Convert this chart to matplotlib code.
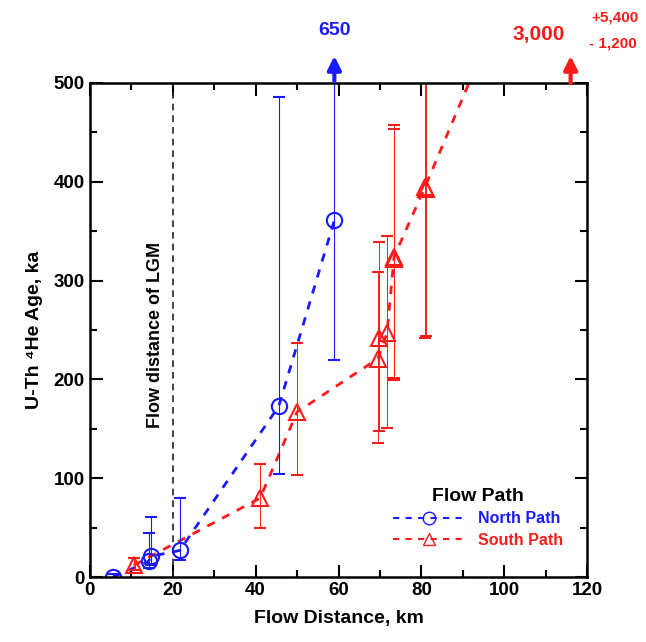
import matplotlib.pyplot as plt
from matplotlib.lines import Line2D

plt.rcParams['font.family'] = ['Liberation Sans', 'DejaVu Sans']
plt.rcParams['font.weight'] = 'bold'

# North path (blue circles)
north_x = [5.6, 14.2, 14.7, 21.7, 45.6, 59.0]
north_y = [0, 16, 21, 27, 173, 361]
north_lo = [-3, 9, 12, 17, 104, 220]
north_hi = [3, 45, 61, 80, 486, 650]

# South path (red triangles)
south_x = [10.6, 41.1, 50.0, 69.5, 69.7, 71.7, 73.3, 73.5, 80.9, 81.1]
south_y = [12, 80, 167, 221, 242, 247, 324, 322, 395, 393]
south_lo = [7, 50, 103, 136, 148, 151, 199, 201, 242, 244]
south_hi = [19, 114, 237, 309, 339, 345, 453, 457, 551, 547]

# dashed trend lines
north_line_x = [5.6, 14.2, 14.7, 21.7, 45.6, 59.0]
north_line_y = [0, 16, 21, 27, 173, 361]
south_line_x = [10.6, 41.1, 50.0, 69.5, 71.7, 73.4, 80.9, 92.0]
south_line_y = [12, 80, 167, 221, 247, 324, 395, 505]

fig = plt.figure(figsize=(6.46, 6.42), dpi=100)
ax = fig.add_axes([0.139, 0.101, 0.770, 0.770])

blue = '#1a1aff'
red = '#ff1a1a'

ax.plot(north_line_x, north_line_y, '--', color=blue, lw=2, dashes=(3, 3))
ax.plot(south_line_x, south_line_y, '--', color=red, lw=2, dashes=(3, 3))

ax.errorbar(north_x, north_y,
            yerr=[[y - l for y, l in zip(north_y, north_lo)],
                  [h - y for y, h in zip(north_y, north_hi)]],
            fmt='o', color=blue, mfc='none', ms=11, mew=1.5,
            elinewidth=0.8, capsize=4, capthick=0.8)
ax.errorbar(south_x, south_y,
            yerr=[[y - l for y, l in zip(south_y, south_lo)],
                  [h - y for y, h in zip(south_y, south_hi)]],
            fmt='^', color=red, mfc='none', ms=11, mew=1.5,
            elinewidth=0.7, capsize=4, capthick=0.7)

# LGM line
ax.plot([20, 20], [0, 500], '--', color='#222222', lw=1.2, dashes=(4, 3))
ax.text(15.8, 245, 'Flow distance of LGM', rotation=90, ha='center', va='center',
        fontsize=13, fontweight='bold')

# off-scale arrows
ax.annotate('', xy=(59, 530), xytext=(59, 499), xycoords='data',
            arrowprops=dict(arrowstyle='-|>', color=blue, lw=3, mutation_scale=20),
            annotation_clip=False)
ax.text(59, 553, '650', color=blue, ha='center', va='center', fontsize=14,
        fontweight='bold', clip_on=False)
ax.annotate('', xy=(116, 530), xytext=(116, 497), xycoords='data',
            arrowprops=dict(arrowstyle='-|>', color=red, lw=3, mutation_scale=20),
            annotation_clip=False)
ax.text(114.5, 549, '3,000', color=red, ha='right', va='center', fontsize=15,
        fontweight='bold', clip_on=False)
ax.text(121, 566, '+5,400', color=red, ha='left', va='center', fontsize=11,
        fontweight='bold', clip_on=False)
ax.text(120.5, 540, '- 1,200', color=red, ha='left', va='center', fontsize=11,
        fontweight='bold', clip_on=False)

ax.set_xlim(0, 120)
ax.set_ylim(0, 500)
ax.set_xticks(range(0, 121, 20))
ax.set_xticks(range(0, 121, 10), minor=True)
ax.set_yticks(range(0, 501, 100))
ax.set_yticks(range(0, 501, 50), minor=True)
ax.tick_params(which='both', direction='in', top=True, right=True, width=1.5,
               labelsize=13.5)
ax.tick_params(which='major', length=9)
ax.tick_params(which='minor', length=5)
for s in ax.spines.values():
    s.set_linewidth(1.8)

ax.set_xlabel('Flow Distance, km', fontsize=14, fontweight='bold', labelpad=8)
ax.set_ylabel('U-Th \u2074He Age, ka', fontsize=14, fontweight='bold', labelpad=8)

handles = [
    Line2D([], [], ls='--', color=blue, marker='o', mfc='none', ms=9, lw=1.5, dashes=(3, 3)),
    Line2D([], [], ls='--', color=red, marker='^', mfc='none', ms=9, lw=1.5, dashes=(3, 3)),
]
leg = ax.legend(handles, ['North Path', 'South Path'], title='Flow Path',
                loc='center', bbox_to_anchor=(0.78, 0.12), frameon=False,
                fontsize=11.5, handlelength=4.5, labelspacing=0.4)
leg.get_title().set_fontsize(14)
leg.get_title().set_fontweight('bold')
for t, c in zip(leg.get_texts(), [blue, red]):
    t.set_color(c)
    t.set_fontweight('bold')

fig.savefig('out.png', dpi=100)
